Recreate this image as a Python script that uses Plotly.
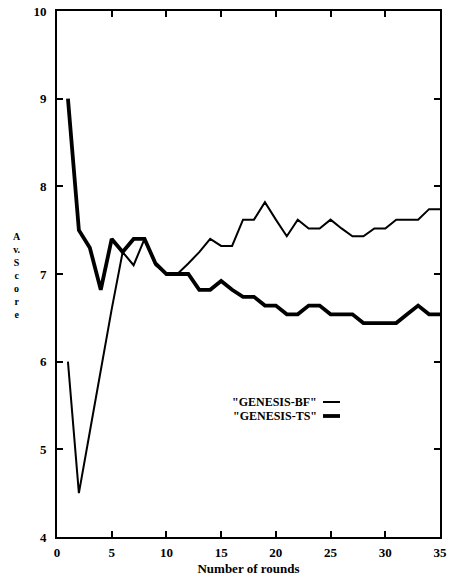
import plotly.graph_objects as go

rounds = list(range(1, 36))
bf_scores = [6.0, 4.5, 5.2, 5.9, 6.6, 7.25, 7.1, 7.4, 7.1, 7.0,
             7.0, 7.12, 7.25, 7.4, 7.32, 7.32, 7.62, 7.62, 7.82, 7.62,
             7.43, 7.62, 7.52, 7.52, 7.62, 7.52, 7.43, 7.43, 7.52, 7.52,
             7.62, 7.62, 7.62, 7.74, 7.74]
ts_scores = [9.0, 7.5, 7.3, 6.82, 7.4, 7.25, 7.4, 7.4, 7.12, 7.0,
             7.0, 7.0, 6.82, 6.82, 6.92, 6.82, 6.74, 6.74, 6.64, 6.64,
             6.54, 6.54, 6.64, 6.64, 6.54, 6.54, 6.54, 6.44, 6.44, 6.44,
             6.44, 6.54, 6.64, 6.54, 6.54]
series_names = ['"GENESIS-BF"', '"GENESIS-TS"']
x_ticks = [0, 5, 10, 15, 20, 25, 30, 35]
y_ticks = [4, 5, 6, 7, 8, 9, 10]
y_label_chars = ["A", "v.", "S", "c", "o", "r", "e"]

FONT = "Liberation Serif"
L, R, T, B = 57, 440, 11, 537  # plot area in pixels


def px_x(p):
    return (p - L) / (R - L)


def px_y(p):
    return (B - p) / (B - T)


fig = go.Figure()
fig.add_trace(go.Scatter(x=rounds, y=bf_scores, mode="lines", name=series_names[0],
                         line=dict(color="black", width=2), showlegend=False))
fig.add_trace(go.Scatter(x=rounds, y=ts_scores, mode="lines", name=series_names[1],
                         line=dict(color="black", width=3.8), showlegend=False))

axis_common = dict(showgrid=False, zeroline=False, showline=True, linecolor="black",
                   linewidth=2, mirror="ticks", ticks="inside", ticklen=6,
                   tickwidth=1.5, tickcolor="black", automargin=False,
                   tickfont=dict(family=FONT, size=13, color="black"))

fig.update_xaxes(range=[0, 35], tickvals=x_ticks,
                 ticktext=["<b>%d</b>" % v for v in x_ticks],
                 ticklabelstandoff=2,
                 title=dict(text="<b>Number of rounds</b>", standoff=5,
                            font=dict(family=FONT, size=13, color="black")),
                 **axis_common)
fig.update_yaxes(range=[4, 10], tickvals=y_ticks,
                 ticktext=["<b>%d</b>" % v for v in y_ticks],
                 ticklabelstandoff=6, **axis_common)

# stacked (upright) y-axis label
fig.add_annotation(text="<b>" + "<br>".join(y_label_chars) + "</b>",
                   xref="paper", yref="paper", x=px_x(17), y=px_y(276),
                   showarrow=False, xanchor="center", yanchor="middle", align="center",
                   font=dict(family=FONT, size=10, color="black"))

# legend (text left, line sample right)
leg_rows = [px_y(402), px_y(416)]
leg_widths = [2, 3.8]
for name, yy, w in zip(series_names, leg_rows, leg_widths):
    fig.add_annotation(text="<b>%s</b>" % name, xref="paper", yref="paper",
                       x=px_x(319), y=yy, xanchor="right", yanchor="middle", showarrow=False,
                       font=dict(family=FONT, size=12, color="black"))
    fig.add_shape(type="line", xref="paper", yref="paper", x0=px_x(323), x1=px_x(340),
                  y0=yy, y1=yy, line=dict(color="black", width=w))

fig.update_layout(width=454, height=579, margin=dict(l=L, r=454 - R, t=T, b=579 - B),
                  plot_bgcolor="white", paper_bgcolor="white")

fig.write_html("out.html", config={"displayModeBar": False},
               post_script="document.body.style.margin='0';")
